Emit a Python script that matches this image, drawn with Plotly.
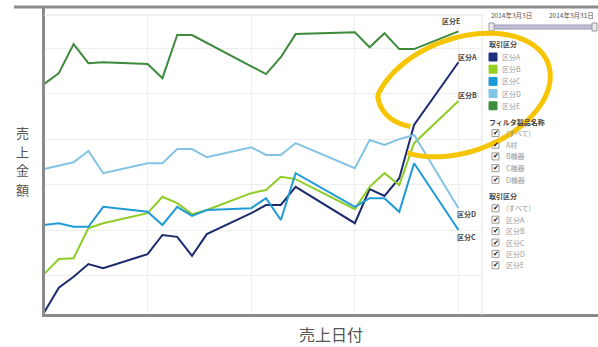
import numpy as np
import plotly.graph_objects as go

# Business days in March 2014 (3/21 is a public holiday)
dates = [
    "2014-03-03", "2014-03-04", "2014-03-05", "2014-03-06", "2014-03-07",
    "2014-03-10", "2014-03-11", "2014-03-12", "2014-03-13", "2014-03-14",
    "2014-03-17", "2014-03-18", "2014-03-19", "2014-03-20",
    "2014-03-24", "2014-03-25", "2014-03-26", "2014-03-27", "2014-03-28",
    "2014-03-31",
]

series_names = ["区分A", "区分B", "区分C", "区分D", "区分E"]

sales_a = [18, 73, 97, 125, 116, 147, 189, 185, 143, 191,
           237, 255, 255, 295, 215, 290, 275, 314, 431, 569]
sales_b = [103, 136, 138, 204, 215, 237, 273, 259, 235, 244,
           281, 288, 317, 312, 246, 295, 325, 299, 391, 484]
sales_c = [211, 215, 207, 207, 251, 240, 211, 251, 231, 244,
           248, 270, 222, 325, 251, 270, 270, 240, 347, 200]
sales_d = [334, 341, 349, 374, 325, 347, 347, 378, 378, 360,
           382, 365, 365, 391, 336, 398, 387, 400, 409, 248]
sales_e = [521, 545, 609, 567, 569, 565, 534, 629, 629, None,
           None, 543, 580, 631, 635, 602, 633, 598, 598, 637]

product_filters = ["(すべて)", "A材", "B機器", "C機器", "D機器"]
category_filters = ["(すべて)"] + series_names
period_labels = ["2014年3月3日", "2014年3月31日"]
y_title = "売上金額"
x_title = "売上日付"

line_colors = ["#1d2b6e", "#8fcc25", "#1f9bd5", "#84c3e4", "#3d8a3b"]
swatch_colors = ["#1d2f80", "#98cf22", "#1b9bd8", "#80c4e7", "#3e8e3e"]

FONT = "Noto Sans CJK JP"
W, H = 598, 347
PL, PR, PT, PB = 44, 482, 15, 315   # plot area in pixels


def fx(x):
    return (x - PL) / (PR - PL)


def fy(y):
    return (PB - y) / (PB - PT)


fig = go.Figure()
all_series = [sales_a, sales_b, sales_c, sales_d, sales_e]
for name, vals, col in zip(series_names, all_series, line_colors):
    fig.add_trace(go.Scatter(
        x=dates, y=vals, mode="lines", name=name, connectgaps=True,
        line=dict(color=col, width=2), showlegend=False, hoverinfo="x+y+name",
    ))

shapes = []
annotations = []


def hline(x0, x1, y, color, width):
    shapes.append(dict(type="line", xref="paper", yref="paper",
                       x0=fx(x0), x1=fx(x1), y0=fy(y), y1=fy(y),
                       line=dict(color=color, width=width), layer="above"))


def vline(x, y0, y1, color, width):
    shapes.append(dict(type="line", xref="paper", yref="paper",
                       x0=fx(x), x1=fx(x), y0=fy(y0), y1=fy(y1),
                       line=dict(color=color, width=width), layer="above"))


def rect(x0, y0, x1, y1, fill, line_color, width=1):
    shapes.append(dict(type="rect", xref="paper", yref="paper",
                       x0=fx(x0), x1=fx(x1), y0=fy(y1), y1=fy(y0),
                       fillcolor=fill, line=dict(color=line_color, width=width),
                       layer="above"))


def text(x, y, s, size=7, color="#555", xanchor="left", family=FONT):
    annotations.append(dict(xref="paper", yref="paper", x=fx(x), y=fy(y),
                            text=s, showarrow=False, xanchor=xanchor,
                            yanchor="middle", borderpad=0,
                            font=dict(family=family, size=size, color=color)))


# dashboard frame
hline(PT - 1, 598, 7, "#8a8a8a", 3)
hline(PL - 1, 598, 315.5, "#8a8a8a", 3)
vline(43.5, 6, 317, "#8a8a8a", 3)
hline(PL, PR, PT, "#e4e4e4", 1)
vline(PR, 13, PB, "#e4e4e4", 1)

# period slider
text(490, 15, period_labels[0], size=6.5)
text(548, 15, period_labels[1], size=6.5)
rect(491, 25, 596, 29, "#bfc0d6", "#9b9cb4")
rect(489, 23, 494, 31, "#e8e8ee", "#9a9a9a")
rect(592, 23, 597, 31, "#e8e8ee", "#9a9a9a")

# colour legend
text(488, 44, "<b>取引区分</b>", size=7, color="#444")
for i, (name, col) in enumerate(zip(series_names, swatch_colors)):
    yc = 57 + i * 12.2
    rect(489, yc - 4, 497, yc + 4, col, col)
    text(501, yc, name, size=7, color="#999")


# filter lists with checkboxes
def checklist(title, title_y, items, y_first, step):
    text(488, title_y, "<b>" + title + "</b>", size=7, color="#444")
    for i, item in enumerate(items):
        yc = y_first + i * step
        rect(492, yc - 3.5, 499, yc + 3.5, "#ffffff", "#9a9a9a")
        text(495.5, yc, "✔", size=7, color="#111", xanchor="center", family="DejaVu Sans")
        text(505, yc, item, size=7, color="#999")


checklist("フィルタ製品名称", 122, product_filters, 133, 11.7)
checklist("取引区分", 196, category_filters, 208.3, 11.4)

# axis titles (the vertical one is written one character per row)
for i, ch in enumerate(y_title):
    text(22, 132 + i * 19.0, ch, size=13, color="#555", xanchor="center")
text(331, 334, x_title, size=16, color="#555", xanchor="center")

# series labels at the last point
label_offsets = {"区分A": (-1, 5, "left"), "区分B": (-1, 6, "left"),
                 "区分C": (-2, -7, "left"), "区分D": (-2, -6, "left"),
                 "区分E": (-7, 10, "center")}
for name, vals in zip(series_names, all_series):
    dx, dy, anc = label_offsets[name]
    annotations.append(dict(x=dates[-1], y=vals[-1], xref="x", yref="y",
                            text="<b>" + name + "</b>", showarrow=False,
                            xanchor=anc, yanchor="middle", xshift=dx, yshift=dy,
                            borderpad=0,
                            font=dict(family=FONT, size=7, color="#444")))

# hand-drawn highlight loop
cx, cy, a, b, rot = 462, 95, 89, 55, np.deg2rad(20)
t = np.deg2rad(np.linspace(-141, 198, 160))
scale = np.where(t <= np.deg2rad(150), 1.03,
                 1.03 - (t - np.deg2rad(150)) / np.deg2rad(48) * 0.33)
px = cx + scale * (a * np.cos(t) * np.cos(rot) - b * np.sin(t) * np.sin(rot))
py = cy - scale * (a * np.cos(t) * np.sin(rot) + b * np.sin(t) * np.cos(rot))
path = "M " + " L ".join(f"{fx(u):.4f},{fy(v):.4f}" for u, v in zip(px, py))
shapes.append(dict(type="path", xref="paper", yref="paper", path=path,
                   line=dict(color="#f6c500", width=5), layer="above"))

fig.update_layout(
    width=W, height=H,
    margin=dict(l=PL, r=W - PR, t=PT, b=H - PB, pad=0),
    plot_bgcolor="white", paper_bgcolor="white",
    showlegend=False,
    font=dict(family=FONT),
    xaxis=dict(type="date", range=["2014-03-03", "2014-04-01 14:10"],
               tick0="2014-03-03", dtick=7 * 86400000,
               showticklabels=False, ticks="", showgrid=True,
               gridcolor="#eeeeee", gridwidth=1, zeroline=False, showline=False),
    yaxis=dict(range=[13, 673], tick0=0, dtick=100, showticklabels=False,
               ticks="", showgrid=True, gridcolor="#eeeeee", gridwidth=1,
               zeroline=False, showline=False),
    shapes=shapes,
    annotations=annotations,
)

fig.write_html("out.html")
